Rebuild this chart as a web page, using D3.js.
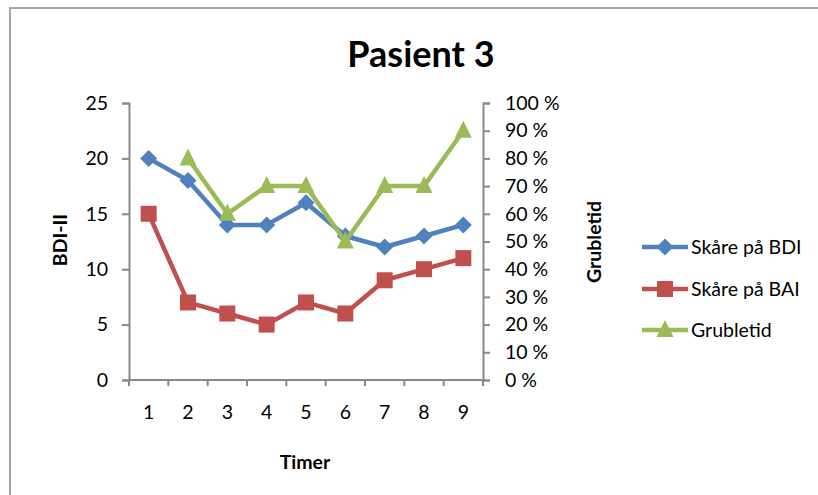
<!DOCTYPE html>
<html><head><meta charset="utf-8">
<script src="https://cdn.jsdelivr.net/npm/d3@7"></script>
<style>body{margin:0;background:#fff;} svg{display:block;font-family:Lato,"Open Sans",sans-serif;}</style>
</head><body>
<script>
const categories = ["1","2","3","4","5","6","7","8","9"];
const bdi = [20,18,14,14,16,13,12,13,14];
const bai = [15,7,6,5,7,6,9,10,11];
const grubletid = [null,80,60,70,70,50,70,70,90];
const leftTicks = [0,5,10,15,20,25];
const rightTicks = [0,10,20,30,40,50,60,70,80,90,100];

const W=818,H=495;
const svg=d3.select("body").append("svg").attr("width",W).attr("height",H);
// outer border
svg.append("path").attr("d",`M10,${H+5} L10,8 L${W+5},8`).attr("fill","none").attr("stroke","#a6a6a6").attr("stroke-width",2);

const x0=129,x1=483,yT=103,yB=380;
const x=d3.scaleBand().domain(categories).range([x0,x1]);
const yL=d3.scaleLinear().domain([0,25]).range([yB,yT]);
const yR=d3.scaleLinear().domain([0,100]).range([yB,yT]);
const axisCol="#898989";
const fs=19.5;

const gl=svg.append("g").attr("transform",`translate(${x0},0)`).call(d3.axisLeft(yL).tickValues(leftTicks).tickSize(7).tickPadding(14));
const gr=svg.append("g").attr("transform",`translate(${x1},0)`).call(d3.axisRight(yR).tickValues(rightTicks).tickSize(7).tickPadding(15).tickFormat(d=>d+" %"));
const gb=svg.append("g").attr("transform",`translate(0,${yB})`).call(d3.axisBottom(x).tickSize(0).tickPadding(25));
const bounds=categories.map(c=>x(c)).concat([x1]);
gb.selectAll(".bt").data(bounds).enter().append("line").attr("x1",d=>d).attr("x2",d=>d).attr("y1",0).attr("y2",6).attr("stroke",axisCol).attr("stroke-width",2);
[gl,gr,gb].forEach(g=>{
  g.select(".domain").attr("stroke",axisCol).attr("stroke-width",2);
  g.selectAll(".tick line").attr("stroke",axisCol).attr("stroke-width",2);
  g.selectAll("text").attr("font-family","Lato, sans-serif").attr("font-size",fs).attr("fill","#000");
});
gb.select(".domain").attr("d",`M${x0},0H${x1}`);

const cx=c=>x(c)+x.bandwidth()/2;
const series=[
 {name:"Skåre på BDI",vals:bdi,y:yL,color:"#4F81BD",shape:"diamond"},
 {name:"Skåre på BAI",vals:bai,y:yL,color:"#C0504D",shape:"square"},
 {name:"Grubletid",vals:grubletid,y:yR,color:"#9BBB59",shape:"triangle"}
];
function marker(g,shape,color){
  if(shape==="diamond") g.append("path").attr("d","M0,-8.5L8.5,0L0,8.5L-8.5,0Z").attr("fill",color);
  else if(shape==="square") g.append("rect").attr("x",-8).attr("y",-8).attr("width",16).attr("height",16).attr("fill",color);
  else g.append("path").attr("d","M0,-10L8.5,7L-8.5,7Z").attr("fill",color);
}
series.forEach(s=>{
  const pts=s.vals.map((v,i)=>({c:categories[i],v})).filter(d=>d.v!=null);
  const line=d3.line().x(d=>cx(d.c)).y(d=>s.y(d.v));
  svg.append("path").attr("d",line(pts)).attr("fill","none").attr("stroke",s.color).attr("stroke-width",4.5).attr("stroke-linejoin","round");
  pts.forEach(d=>{const g=svg.append("g").attr("transform",`translate(${cx(d.c)},${s.y(d.v)})`);marker(g,s.shape,s.color);});
});

svg.append("text").attr("x",421).attr("y",67).attr("text-anchor","middle").attr("font-size",36).attr("font-weight","bold").text("Pasient 3");
svg.append("text").attr("transform","translate(67,240) rotate(-90)").attr("text-anchor","middle").attr("font-size",fs).attr("font-weight","bold").text("BDI-II");
svg.append("text").attr("transform","translate(601,242) rotate(-90)").attr("text-anchor","middle").attr("font-size",fs).attr("font-weight","bold").text("Grubletid");
svg.append("text").attr("x",305).attr("y",469).attr("text-anchor","middle").attr("font-size",fs).attr("font-weight","bold").text("Timer");

const ly=[247,289,330];
series.forEach((s,i)=>{
  svg.append("line").attr("x1",642).attr("x2",688).attr("y1",ly[i]).attr("y2",ly[i]).attr("stroke",s.color).attr("stroke-width",4.5);
  const g=svg.append("g").attr("transform",`translate(665,${ly[i]})`);marker(g,s.shape,s.color);
  svg.append("text").attr("x",691).attr("y",ly[i]+7).attr("font-size",fs).text(s.name);
});
</script>
</body></html>
